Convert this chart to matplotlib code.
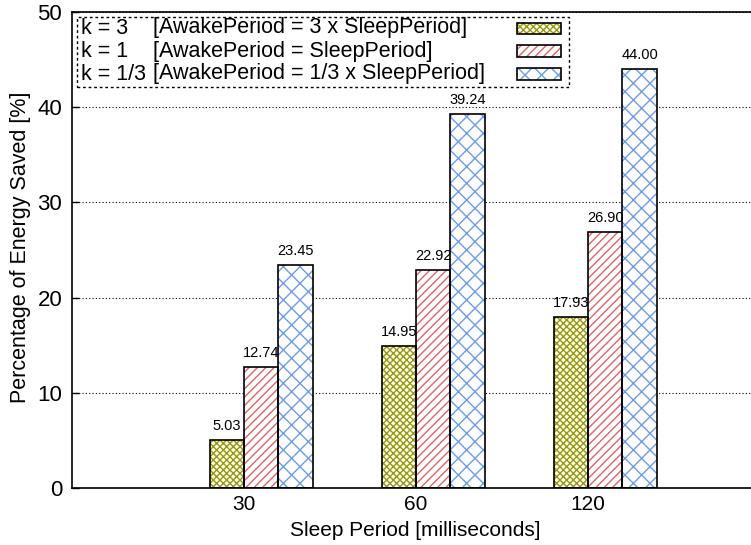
import matplotlib
matplotlib.use("Agg")
import matplotlib.pyplot as plt
from matplotlib.patches import Rectangle
import numpy as np

# data
sleep_periods = ["30", "60", "120"]
k3_saved = [5.03, 14.95, 17.93]
k1_saved = [12.74, 22.92, 26.90]
k13_saved = [23.45, 39.24, 44.00]

series_k = ["k = 3", "k = 1", "k = 1/3"]
series_desc = ["[AwakePeriod = 3 x SleepPeriod]",
               "[AwakePeriod = SleepPeriod]",
               "[AwakePeriod = 1/3 x SleepPeriod]"]

HATCH_COLORS = ["#999900", "#e06464", "#6a9cf0"]
HATCHES = ["xxxxx", "////", "xx"]

plt.rcParams["font.family"] = ["Liberation Sans", "DejaVu Sans"]
plt.rcParams["hatch.linewidth"] = 1.0

fig = plt.figure(figsize=(7.51, 5.45), dpi=100)
ax = fig.add_axes([72 / 751, 1 - 488 / 545, (760 - 72) / 751, (488 - 12) / 545])

x = np.arange(len(sleep_periods))
w = 0.2
offsets = [-0.1, 0.1, 0.3]
for vals, off, col, hat in zip([k3_saved, k1_saved, k13_saved], offsets, HATCH_COLORS, HATCHES):
    # hatch layer in series colour, then black outline on top
    ax.bar(x + off, vals, w, color="white", edgecolor=col, hatch=hat, linewidth=0, zorder=2)
    ax.bar(x + off, vals, w, fill=False, edgecolor="black", linewidth=1.2, zorder=3)
    for xi, v in zip(x + off, vals):
        ax.annotate(f"{v:.2f}", (xi, v), xytext=(0, 5), textcoords="offset points",
                    ha="center", va="bottom", fontsize=10.5)

ax.set_xlim(-1, 3)
ax.set_ylim(0, 50)
ax.set_yticks(range(0, 51, 10))
ax.set_xticks(x)
ax.set_xticklabels(sleep_periods)
ax.tick_params(axis="y", direction="in", length=5, width=1, labelsize=16, pad=7)
ax.tick_params(axis="x", length=0, labelsize=15, pad=5)
ax.yaxis.grid(True, linestyle=(0, (1, 2)), color="black", linewidth=0.8)
ax.set_axisbelow(True)
for sp in ax.spines.values():
    sp.set_linewidth(1.2)

fig.text(21 / 751, 1 - 247 / 545, "Percentage of Energy Saved [%]", rotation=90,
         ha="center", va="center", fontsize=15.5)
fig.text(415 / 751, 1 - 530 / 545, "Sleep Period [milliseconds]",
         ha="center", va="center", fontsize=15)

# gnuplot-style key with dotted frame
tr = fig.transFigure
fig.patches.append(Rectangle((77 / 751, 1 - 87 / 545), (569 - 77) / 751, (87 - 17) / 545,
                             transform=tr, fill=False, edgecolor="black",
                             linestyle=(0, (2, 2)), linewidth=1.0, zorder=5))
row_y = [28, 51, 74]
for ky, desc, ry, col, hat in zip(series_k, series_desc, row_y, HATCH_COLORS, HATCHES):
    fig.text(81 / 751, 1 - ry / 545, ky, ha="left", va="center", fontsize=15.5)
    fig.text(153 / 751, 1 - ry / 545, desc, ha="left", va="center", fontsize=15.5)
    fig.patches.append(Rectangle((517 / 751, 1 - (ry + 5.5) / 545), 44 / 751, 11 / 545,
                                 transform=tr, facecolor="white", edgecolor=col,
                                 hatch=hat, linewidth=0, zorder=5))
    fig.patches.append(Rectangle((517 / 751, 1 - (ry + 5.5) / 545), 44 / 751, 11 / 545,
                                 transform=tr, fill=False, edgecolor="black",
                                 linewidth=1.2, zorder=6))

fig.savefig("out.png", dpi=100)
